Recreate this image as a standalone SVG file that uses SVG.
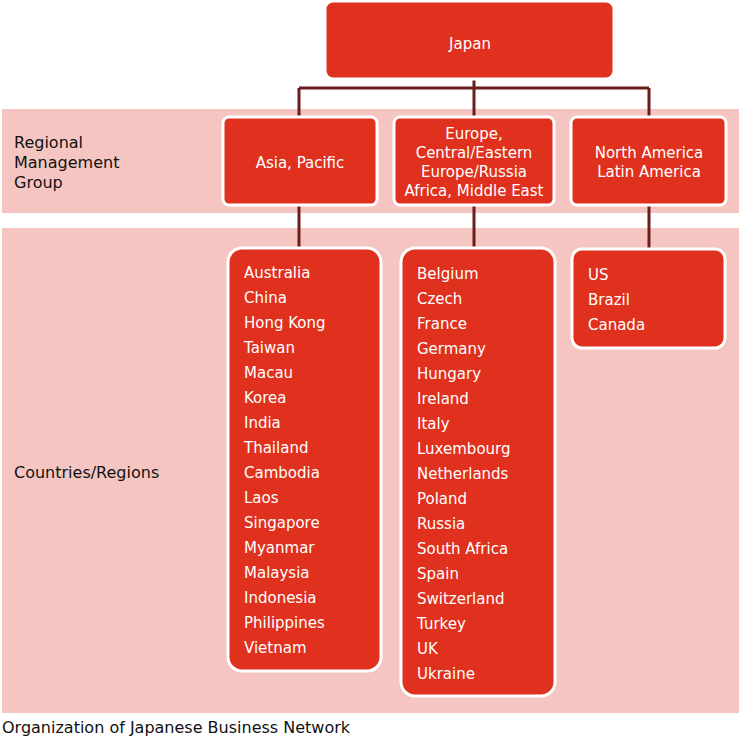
<svg xmlns="http://www.w3.org/2000/svg" width="739" height="737" viewBox="0 0 739 737">
<style>
.band{fill:#f5c6c1}
.box{fill:#e0301e;stroke:#fff;stroke-width:3}
.t{font-family:"DejaVu Sans",Verdana,sans-serif;fill:#fff;font-size:15px}
.c{text-anchor:middle}
.l{font-family:"DejaVu Sans",Verdana,sans-serif;fill:#111;font-size:16px}
.line{stroke:#6b1f1a;stroke-width:3;fill:none}
</style>
<rect width="739" height="737" fill="#fff"/>
<rect class="band" x="2" y="109" width="737" height="104"/>
<rect class="band" x="2" y="228" width="737" height="485"/>
<text class="l" x="14" y="148">Regional</text>
<text class="l" x="14" y="168">Management</text>
<text class="l" x="14" y="188">Group</text>
<text class="l" x="14" y="478">Countries/Regions</text>
<g id="connectors">
<path class="line" d="M474 78V118M299 88H649M299 88V118M649 88V118M299 205V248M474 205V248M649 205V249"/>
</g>
<g id="japan"><rect class="box" x="325" y="1" width="289" height="78" rx="8"/><text class="t c" x="470" y="49" font-size="20">Japan</text></g>
<g id="asia"><rect class="box" x="223" y="117" width="154" height="88" rx="6"/><text class="t c" x="300" y="168">Asia, Pacific</text></g>
<g id="europe"><rect class="box" x="394" y="117" width="160" height="88" rx="6"/><text class="t c" x="474" y="139">Europe,</text><text class="t c" x="474" y="158">Central/Eastern</text><text class="t c" x="474" y="177">Europe/Russia</text><text class="t c" x="474" y="196">Africa, Middle East</text></g>
<g id="americas"><rect class="box" x="571" y="117" width="155" height="88" rx="6"/><text class="t c" x="649" y="158">North America</text><text class="t c" x="649" y="177">Latin America</text></g>
<g id="asia-list"><rect class="box" x="228" y="248" width="153" height="423" rx="14"/>
<text class="t" x="244" font-size="16"><tspan x="244" y="278">Australia</tspan><tspan x="244" dy="25">China</tspan><tspan x="244" dy="25">Hong Kong</tspan><tspan x="244" dy="25">Taiwan</tspan><tspan x="244" dy="25">Macau</tspan><tspan x="244" dy="25">Korea</tspan><tspan x="244" dy="25">India</tspan><tspan x="244" dy="25">Thailand</tspan><tspan x="244" dy="25">Cambodia</tspan><tspan x="244" dy="25">Laos</tspan><tspan x="244" dy="25">Singapore</tspan><tspan x="244" dy="25">Myanmar</tspan><tspan x="244" dy="25">Malaysia</tspan><tspan x="244" dy="25">Indonesia</tspan><tspan x="244" dy="25">Philippines</tspan><tspan x="244" dy="25">Vietnam</tspan></text></g>
<g id="europe-list"><rect class="box" x="401" y="248" width="154" height="448" rx="14"/>
<text class="t" font-size="16"><tspan x="417" y="279">Belgium</tspan><tspan x="417" dy="25">Czech</tspan><tspan x="417" dy="25">France</tspan><tspan x="417" dy="25">Germany</tspan><tspan x="417" dy="25">Hungary</tspan><tspan x="417" dy="25">Ireland</tspan><tspan x="417" dy="25">Italy</tspan><tspan x="417" dy="25">Luxembourg</tspan><tspan x="417" dy="25">Netherlands</tspan><tspan x="417" dy="25">Poland</tspan><tspan x="417" dy="25">Russia</tspan><tspan x="417" dy="25">South Africa</tspan><tspan x="417" dy="25">Spain</tspan><tspan x="417" dy="25">Switzerland</tspan><tspan x="417" dy="25">Turkey</tspan><tspan x="417" dy="25">UK</tspan><tspan x="417" dy="25">Ukraine</tspan></text></g>
<g id="americas-list"><rect class="box" x="572" y="249" width="153" height="99" rx="10"/>
<text class="t" font-size="16"><tspan x="588" y="280">US</tspan><tspan x="588" dy="25">Brazil</tspan><tspan x="588" dy="25">Canada</tspan></text></g>
<text class="l" x="2" y="733" font-size="14">Organization of Japanese Business Network</text>
</svg>
